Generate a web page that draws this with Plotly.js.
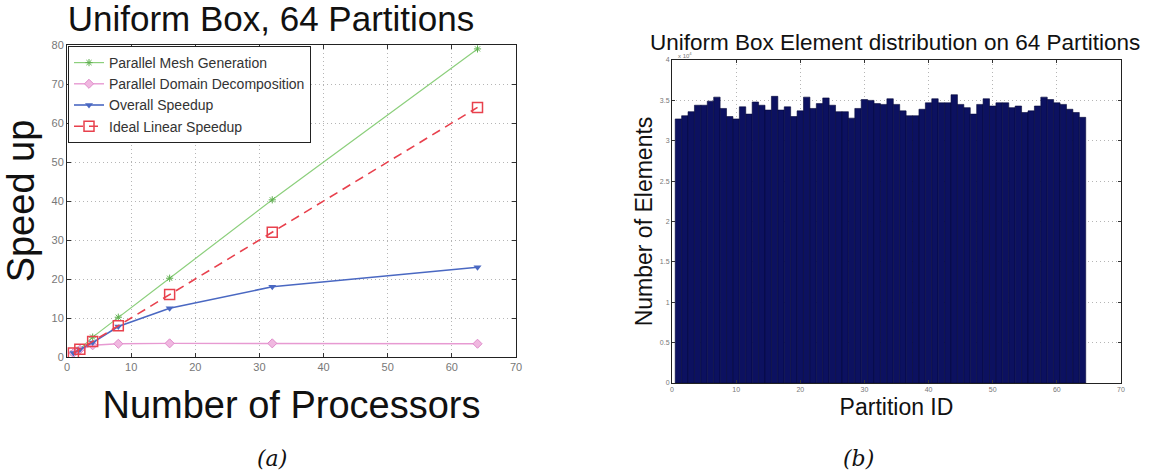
<!DOCTYPE html>
<html>
<head>
<meta charset="utf-8">
<script src="https://cdn.plot.ly/plotly-3.0.1.min.js"></script>
<style>
  html, body { margin: 0; padding: 0; background: #fff; }
  #chart { width: 1153px; height: 475px; }
</style>
</head>
<body>
<div id="chart"></div>
<script>
// Panel (a): speed-up versus processor count
const processors = [1, 2, 4, 8, 16, 32, 64];
const meshGenSpeedup = [1, 2, 5.1, 10.2, 20.2, 40.3, 79];
const domainDecompSpeedup = [1, 1.9, 3.0, 3.4, 3.5, 3.5, 3.4];
const overallSpeedup = [1, 1.9, 3.7, 7.8, 12.5, 18, 23];
const idealSpeedup = [1, 2, 4, 8, 16, 32, 64];

// Panel (b): element count per partition (scaled by 10^4)
const partitionIds = [];
for (let i = 1; i <= 64; i++) partitionIds.push(i);
const elementCounts = [
  3.27, 3.31, 3.36, 3.44, 3.44, 3.49, 3.54, 3.40,
  3.30, 3.27, 3.42, 3.33, 3.48, 3.44, 3.38, 3.55,
  3.38, 3.42, 3.30, 3.37, 3.54, 3.40, 3.46, 3.53,
  3.44, 3.36, 3.36, 3.28, 3.40, 3.51, 3.50, 3.46,
  3.45, 3.52, 3.45, 3.37, 3.31, 3.31, 3.39, 3.47,
  3.52, 3.47, 3.47, 3.57, 3.45, 3.41, 3.33, 3.45,
  3.52, 3.43, 3.47, 3.47, 3.41, 3.43, 3.35, 3.37,
  3.43, 3.54, 3.51, 3.47, 3.45, 3.39, 3.35, 3.29
];

const xTicksA = [0, 10, 20, 30, 40, 50, 60, 70];
const yTicksA = [0, 10, 20, 30, 40, 50, 60, 70, 80];
const yTicksB = [0, 0.5, 1, 1.5, 2, 2.5, 3, 3.5, 4];

const W = 1153, H = 475;
const px = v => v / W;
const py = v => 1 - v / H;

const traces = [
  {
    x: processors, y: meshGenSpeedup, name: 'Parallel Mesh Generation',
    type: 'scatter', mode: 'lines+markers', xaxis: 'x', yaxis: 'y',
    line: { color: '#8ccf7c', width: 1.2 },
    marker: { symbol: 'asterisk-open', size: 6, color: '#5fb04f', line: { color: '#5fb04f', width: 1 } }
  },
  {
    x: processors, y: domainDecompSpeedup, name: 'Parallel Domain Decomposition',
    type: 'scatter', mode: 'lines+markers', xaxis: 'x', yaxis: 'y',
    line: { color: '#e79ad2', width: 1.4 },
    marker: { symbol: 'diamond', size: 7, color: '#f0b8e0', line: { color: '#e08ccb', width: 1 } }
  },
  {
    x: processors, y: overallSpeedup, name: 'Overall Speedup',
    type: 'scatter', mode: 'lines+markers', xaxis: 'x', yaxis: 'y',
    line: { color: '#4a68c2', width: 1.6 },
    marker: { symbol: 'triangle-down', size: 7, color: '#4a68c2' }
  },
  {
    x: processors, y: idealSpeedup, name: 'Ideal Linear Speedup',
    type: 'scatter', mode: 'lines+markers', xaxis: 'x', yaxis: 'y',
    line: { color: '#e8414d', width: 1.6, dash: '9px,6px' },
    marker: { symbol: 'square-open', size: 10, color: '#e8414d', line: { width: 1.5 } }
  },
  {
    x: partitionIds, y: elementCounts, name: 'Elements',
    type: 'bar', xaxis: 'x2', yaxis: 'y2', showlegend: false,
    marker: { color: '#0c1160', line: { color: '#05083a', width: 0.6 } }
  }
];

const gridStyle = { showgrid: true, gridcolor: '#b5b5b5', griddash: '1px,3px', gridwidth: 1 };

const layout = {
  width: W, height: H,
  margin: { l: 0, r: 0, t: 0, b: 0 },
  paper_bgcolor: '#ffffff', plot_bgcolor: '#ffffff',
  font: { family: 'Liberation Sans, Arial, sans-serif', color: '#111' },
  showlegend: true,
  bargap: 0,
  title: {
    text: 'Uniform Box, 64 Partitions',
    font: { size: 35, color: '#111' },
    x: px(271), xanchor: 'center', y: py(19), yanchor: 'middle'
  },
  legend: {
    x: px(68), y: py(46), xanchor: 'left', yanchor: 'top',
    bgcolor: '#ffffff', bordercolor: '#222', borderwidth: 1,
    font: { size: 14, color: '#333' },
    itemwidth: 30, tracegroupgap: 0
  },
  xaxis: Object.assign({
    domain: [px(67), px(516)], range: [0, 70],
    tickvals: xTicksA, ticks: 'inside', ticklen: 4, tickcolor: '#333',
    showline: true, linecolor: '#222', linewidth: 1, mirror: 'ticks', zeroline: false,
    tickfont: { size: 11, color: '#777' },
    title: { text: 'Number of Processors', font: { size: 38, color: '#111' }, standoff: 19 },
    anchor: 'y'
  }, gridStyle),
  yaxis: Object.assign({
    domain: [1 - 357 / H, py(45)], range: [0, 80],
    tickvals: yTicksA, ticks: 'inside', ticklen: 4, tickcolor: '#333',
    showline: true, linecolor: '#222', linewidth: 1, mirror: 'ticks', zeroline: false,
    tickfont: { size: 11, color: '#777' },
    title: { text: 'Speed up', font: { size: 38, color: '#111' }, standoff: 6 },
    anchor: 'x'
  }, gridStyle),
  xaxis2: Object.assign({
    domain: [px(672), px(1121)], range: [0, 70],
    tickvals: xTicksA, ticks: 'inside', ticklen: 3, tickcolor: '#333',
    showline: true, linecolor: '#222', linewidth: 1, mirror: 'ticks', zeroline: false,
    tickfont: { size: 7, color: '#777' },
    title: { text: 'Partition ID', font: { size: 23, color: '#111' }, standoff: 6 },
    anchor: 'y2'
  }, gridStyle),
  yaxis2: Object.assign({
    domain: [1 - 383 / H, py(60)], range: [0, 4],
    tickvals: yTicksB, ticks: 'inside', ticklen: 3, tickcolor: '#333',
    showline: true, linecolor: '#222', linewidth: 1, mirror: 'ticks', zeroline: false,
    tickfont: { size: 7, color: '#777' },
    title: { text: 'Number of Elements', font: { size: 23, color: '#111' }, standoff: 0 },
    anchor: 'x2'
  }, gridStyle),
  annotations: [
    {
      text: 'Uniform Box Element distribution on 64 Partitions',
      xref: 'paper', yref: 'paper', x: px(895), y: py(42),
      xanchor: 'center', yanchor: 'middle', showarrow: false,
      font: { size: 22.5, color: '#111' }
    },
    {
      text: 'x 10<sup>4</sup>',
      xref: 'paper', yref: 'paper', x: px(676), y: py(60.5),
      xanchor: 'left', yanchor: 'bottom', showarrow: false,
      font: { size: 6, color: '#777' }
    },
    {
      text: '<i>(a)</i>',
      xref: 'paper', yref: 'paper', x: px(272), y: py(458),
      xanchor: 'center', yanchor: 'middle', showarrow: false,
      font: { size: 22, color: '#111', family: 'DejaVu Serif, Liberation Serif, serif' }
    },
    {
      text: '<i>(b)</i>',
      xref: 'paper', yref: 'paper', x: px(858), y: py(458),
      xanchor: 'center', yanchor: 'middle', showarrow: false,
      font: { size: 22, color: '#111', family: 'DejaVu Serif, Liberation Serif, serif' }
    }
  ]
};

Plotly.newPlot('chart', traces, layout, { displayModeBar: false, staticPlot: true });
</script>
</body>
</html>
